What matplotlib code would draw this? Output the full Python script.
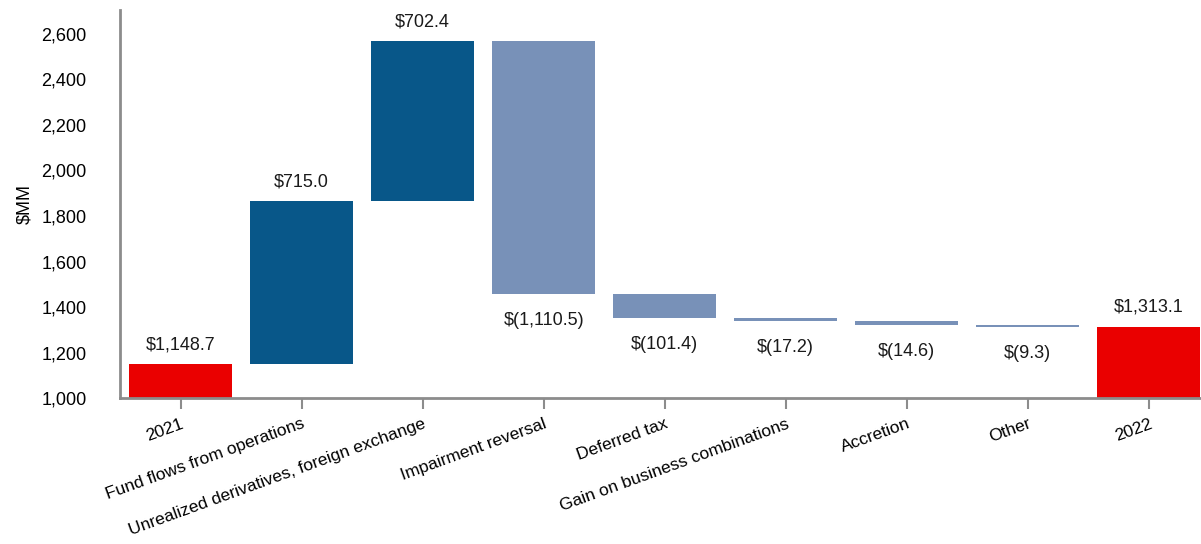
import numpy as np
import matplotlib.pyplot as plt

plt.rcParams['font.family'] = ['Liberation Sans', 'DejaVu Sans']

# Dados da ponte 2021 -> 2022 ($MM)
categorias = ["2021", "Fund flows from operations",
              "Unrealized derivatives, foreign exchange",
              "Impairment reversal", "Deferred tax",
              "Gain on business combinations", "Accretion", "Other", "2022"]
inicio = 1148.7
variacoes = [715.0, 702.4, -1110.5, -101.4, -17.2, -14.6, -9.3]
fim = 1313.1
rotulos = ["$1,148.7", "$715.0", "$702.4", "$(1,110.5)", "$(101.4)",
           "$(17.2)", "$(14.6)", "$(9.3)", "$1,313.1"]

vermelho = "#EA0000"
azul_escuro = "#085789"
azul_claro = "#7891B8"
cinza = "#8C8C8C"

base_y = 1000
x = np.arange(len(categorias))

# Bases e alturas das barras
bases = [base_y]
alturas = [inicio - base_y]
cores = [vermelho]
acum = inicio
for v in variacoes:
    if v >= 0:
        bases.append(acum)
        alturas.append(v)
        cores.append(azul_escuro)
    else:
        bases.append(acum + v)
        alturas.append(-v)
        cores.append(azul_claro)
    acum += v
bases.append(base_y)
alturas.append(fim - base_y)
cores.append(vermelho)

fig = plt.figure(figsize=(12.01, 5.44), dpi=100)
ax = fig.add_axes([0.0999, 0.268, 0.899, 0.714])

ax.bar(x, alturas, bottom=bases, width=0.85, color=cores)

# Rótulos de valor: acima para positivos, abaixo para negativos
for i in range(len(x)):
    negativo = i in range(1, len(x) - 1) and variacoes[i - 1] < 0
    if negativo:
        ax.annotate(rotulos[i], (x[i], bases[i]), xytext=(0, -13),
                    textcoords='offset points', ha='center', va='top',
                    fontsize=13, color='#1a1a1a')
    else:
        ax.annotate(rotulos[i], (x[i], bases[i] + alturas[i]), xytext=(0, 8),
                    textcoords='offset points', ha='center', va='bottom',
                    fontsize=13, color='#1a1a1a')

ax.set_xlim(-0.5, 8.42)
ax.set_ylim(1000, 2705)
ax.set_yticks(np.arange(1000, 2601, 200))
ax.set_yticklabels([f"{v:,}" for v in range(1000, 2601, 200)])
ax.set_xticks(x)
ax.set_xticklabels(categorias, rotation=20, ha='right', rotation_mode='anchor')
ax.tick_params(axis='x', length=8, width=1.5, color=cinza, labelsize=12.5, pad=5)
ax.tick_params(axis='y', length=0, labelsize=13, pad=24)
ax.set_ylabel("$MM", fontsize=13, labelpad=6)

for s in ['top', 'right']:
    ax.spines[s].set_visible(False)
for s in ['left', 'bottom']:
    ax.spines[s].set_color(cinza)
    ax.spines[s].set_linewidth(2)

fig.savefig("out.png", dpi=100)
